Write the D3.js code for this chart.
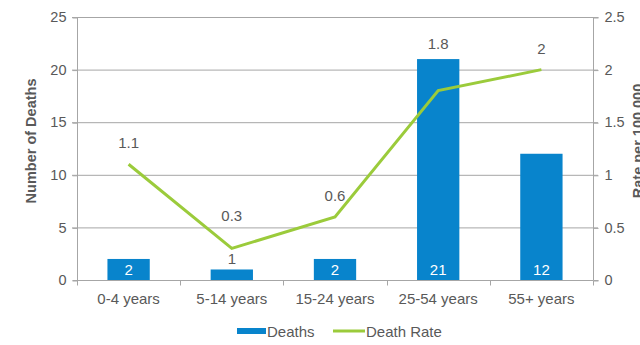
<!DOCTYPE html>
<html>
<head>
<meta charset="utf-8">
<script src="https://cdn.jsdelivr.net/npm/d3@7/dist/d3.min.js"></script>
<style>
  html, body { margin: 0; padding: 0; background: #fff; }
  svg { display: block; font-family: "Liberation Sans", Arial, sans-serif; }
</style>
</head>
<body>
<svg id="chart" width="640" height="345"></svg>
<script>
const categories = ["0-4 years", "5-14 years", "15-24 years", "25-54 years", "55+ years"];
const deaths = [2, 1, 2, 21, 12];
const deathRate = [1.1, 0.3, 0.6, 1.8, 2];
const leftTicks = [0, 5, 10, 15, 20, 25];
const rightTicks = [0, 0.5, 1, 1.5, 2, 2.5];
const rightTickLabels = ["0", "0.5", "1", "1.5", "2", "2.5"];

const textColor = "#595959";
const gridColor = "#A6A6A6";
const barColor = "#0884CC";
const lineColor = "#9BCB3B";

const svg = d3.select("#chart");
const pLeft = 77, pRight = 593, pTop = 17, pBottom = 280;

const x = d3.scaleBand().domain(categories).range([pLeft, pRight]).padding(0);
const yL = d3.scaleLinear().domain([0, 25]).range([pBottom, pTop]);
const yR = d3.scaleLinear().domain([0, 2.5]).range([pBottom, pTop]);

// gridlines
svg.append("g").selectAll("line").data(leftTicks.filter(t => t > 0)).join("line")
  .attr("x1", pLeft - 5).attr("x2", pRight + 5)
  .attr("y1", d => yL(d) + 0.5).attr("y2", d => yL(d) + 0.5)
  .attr("stroke", gridColor).attr("stroke-width", 1);

// left axis
const gL = svg.append("g").attr("transform", `translate(${pLeft + 0.5},0)`)
  .call(d3.axisLeft(yL).tickValues(leftTicks).tickSize(5).tickPadding(6).tickFormat(d3.format("d")));
gL.select(".domain").attr("stroke", gridColor).attr("d", `M-5,${pTop + 0.5}H0V${pBottom + 0.5}H-5`);
gL.selectAll(".tick line").attr("stroke", gridColor).attr("transform", "translate(0,0.5)");
gL.selectAll(".tick text").attr("fill", textColor).attr("font-size", "14.5px")
  .attr("font-family", "Liberation Sans, Arial, sans-serif");

// right axis
const gR = svg.append("g").attr("transform", `translate(${pRight + 0.5},0)`)
  .call(d3.axisRight(yR).tickValues(rightTicks).tickSize(5).tickPadding(6)
    .tickFormat((d, i) => rightTickLabels[i]));
gR.select(".domain").attr("stroke", gridColor).attr("d", `M5,${pTop + 0.5}H0V${pBottom + 0.5}H5`);
gR.selectAll(".tick line").attr("stroke", gridColor).attr("transform", "translate(0,0.5)");
gR.selectAll(".tick text").attr("fill", textColor).attr("font-size", "14.5px")
  .attr("font-family", "Liberation Sans, Arial, sans-serif");

// x axis
const gX = svg.append("g").attr("transform", `translate(0,${pBottom + 0.5})`);
gX.append("line").attr("x1", pLeft).attr("x2", pRight).attr("y1", 0).attr("y2", 0)
  .attr("stroke", gridColor);
const edges = categories.map(c => x(c)).concat([x(categories[categories.length - 1]) + x.bandwidth()]);
gX.selectAll(".xt").data(edges).join("line").attr("class", "xt")
  .attr("x1", d => Math.round(d) + 0.5).attr("x2", d => Math.round(d) + 0.5)
  .attr("y1", 0).attr("y2", 5).attr("stroke", gridColor);
gX.selectAll(".xl").data(categories).join("text").attr("class", "xl")
  .attr("x", d => x(d) + x.bandwidth() / 2).attr("y", 23)
  .attr("text-anchor", "middle").attr("fill", textColor).attr("font-size", "15px")
  .text(d => d);

// bars
const bw = x.bandwidth() * 0.41;
const bars = svg.append("g");
bars.selectAll("rect").data(deaths).join("rect")
  .attr("x", (d, i) => x(categories[i]) + (x.bandwidth() - bw) / 2)
  .attr("width", bw)
  .attr("y", d => yL(d))
  .attr("height", d => pBottom - yL(d))
  .attr("fill", barColor);

// bar labels
bars.selectAll("text").data(deaths).join("text")
  .attr("x", (d, i) => x(categories[i]) + x.bandwidth() / 2)
  .attr("y", d => (pBottom - yL(d)) < 18 ? yL(d) - 5 : pBottom - 5.5)
  .attr("text-anchor", "middle")
  .attr("fill", d => (pBottom - yL(d)) < 18 ? textColor : "#ffffff")
  .attr("font-size", "15px")
  .text(d => d);

// line
const cx = i => x(categories[i]) + x.bandwidth() / 2;
const line = d3.line().x((d, i) => cx(i)).y(d => yR(d));
svg.append("path").datum(deathRate).attr("d", line)
  .attr("fill", "none").attr("stroke", lineColor).attr("stroke-width", 3)
  .attr("stroke-linejoin", "miter");

// line labels (above points, lifted clear of bars / neighbouring labels)
svg.append("g").selectAll("text").data(deathRate).join("text")
  .attr("x", (d, i) => cx(i))
  .attr("y", (d, i) => {
    let yy = yR(d) - 16;
    const barTop = yL(deaths[i]);
    if (barTop < yR(d) && barTop < yy + 4) yy = barTop - 10;
    if (i === 1) yy -= 11;
    return yy;
  })
  .attr("text-anchor", "middle").attr("fill", textColor).attr("font-size", "15px")
  .text(d => d);

// axis titles
svg.append("text")
  .attr("transform", `translate(36,141) rotate(-90)`)
  .attr("text-anchor", "middle").attr("fill", textColor)
  .attr("font-size", "14.5px").attr("font-weight", "bold")
  .text("Number of Deaths");
svg.append("text")
  .attr("transform", `translate(643,141) rotate(-90)`)
  .attr("text-anchor", "middle").attr("fill", textColor)
  .attr("font-size", "14.5px").attr("font-weight", "bold")
  .text("Rate per 100,000");

// legend
const lg = svg.append("g");
lg.append("rect").attr("x", 237).attr("y", 328).attr("width", 29).attr("height", 6).attr("fill", barColor);
lg.append("text").attr("x", 267).attr("y", 337).attr("fill", textColor).attr("font-size", "15px").text("Deaths");
lg.append("line").attr("x1", 333).attr("x2", 365).attr("y1", 331).attr("y2", 331)
  .attr("stroke", lineColor).attr("stroke-width", 3);
lg.append("text").attr("x", 366).attr("y", 337).attr("fill", textColor).attr("font-size", "15px").text("Death Rate");
</script>
</body>
</html>
